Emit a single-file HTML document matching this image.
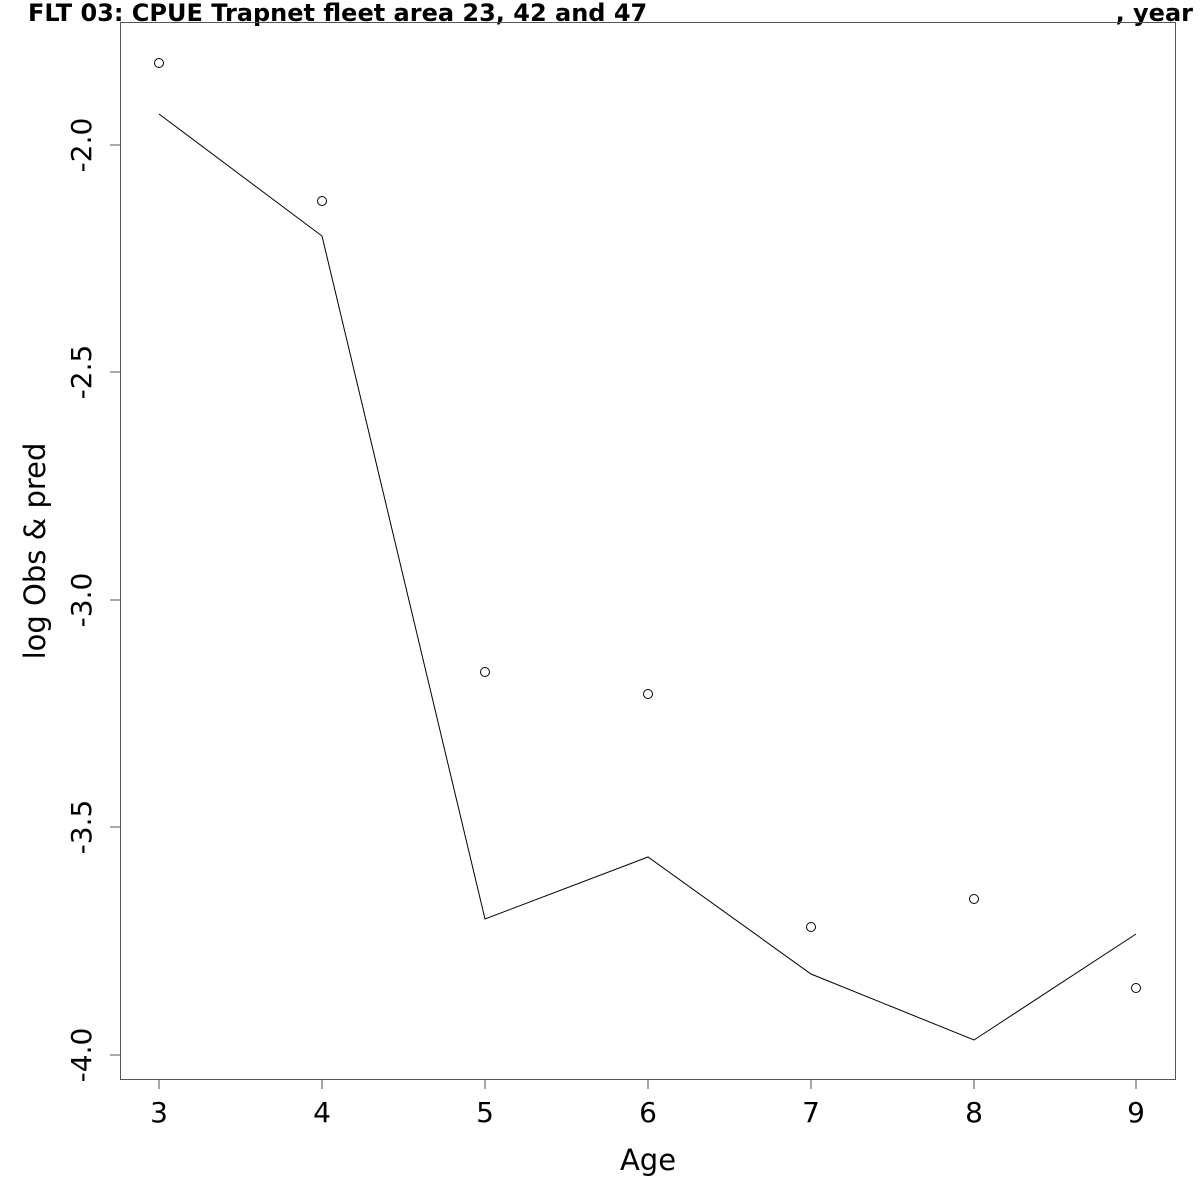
<!DOCTYPE html>
<html><head><style>body{margin:0;background:#fff}svg{display:block}</style></head><body>
<svg width="1200" height="1200" xmlns="http://www.w3.org/2000/svg" font-family="DejaVu Sans, Liberation Sans, sans-serif">
<rect width="1200" height="1200" fill="#fff"/>
<text x="28" y="21" font-size="24" font-weight="bold">FLT 03: CPUE Trapnet fleet area 23, 42 and 47</text>
<text x="1193" y="21" font-size="24" font-weight="bold" text-anchor="end">, year</text>
<rect x="120.5" y="22.5" width="1055" height="1057" fill="none" stroke="#555" stroke-width="1"/>
<g stroke="#000" stroke-width="1" fill="none">
<polyline points="159,114 322,236 485,919 648,857 811,974 974,1040 1136,934"/>
<circle cx="159" cy="63" r="4.5"/><circle cx="322" cy="201" r="4.5"/><circle cx="485" cy="672" r="4.5"/>
<circle cx="648" cy="694" r="4.5"/><circle cx="811" cy="927" r="4.5"/><circle cx="974" cy="899" r="4.5"/>
<circle cx="1136" cy="988" r="4.5"/>
</g>
<g stroke="#777" stroke-width="1.3" fill="none">
<path d="M159 1080v9M322 1080v9M485 1080v9M648 1080v9M811 1080v9M974 1080v9M1136 1080v9"/>
<path d="M110 145h10M110 372h10M110 600h10M110 827h10M110 1055h10"/>
</g>
<g font-size="28" text-anchor="middle">
<text x="159" y="1122">3</text><text x="322" y="1122">4</text><text x="485" y="1122">5</text>
<text x="648" y="1122">6</text><text x="811" y="1122">7</text><text x="974" y="1122">8</text><text x="1136" y="1122">9</text>
<text x="648" y="1170" font-size="29">Age</text>
<text transform="translate(91,145) rotate(-90)">-2.0</text>
<text transform="translate(91,372) rotate(-90)">-2.5</text>
<text transform="translate(91,600) rotate(-90)">-3.0</text>
<text transform="translate(91,827) rotate(-90)">-3.5</text>
<text transform="translate(91,1055) rotate(-90)">-4.0</text>
<text transform="translate(45,551) rotate(-90)" font-size="29">log Obs &amp; pred</text>
</g>
</svg>
</body></html>
